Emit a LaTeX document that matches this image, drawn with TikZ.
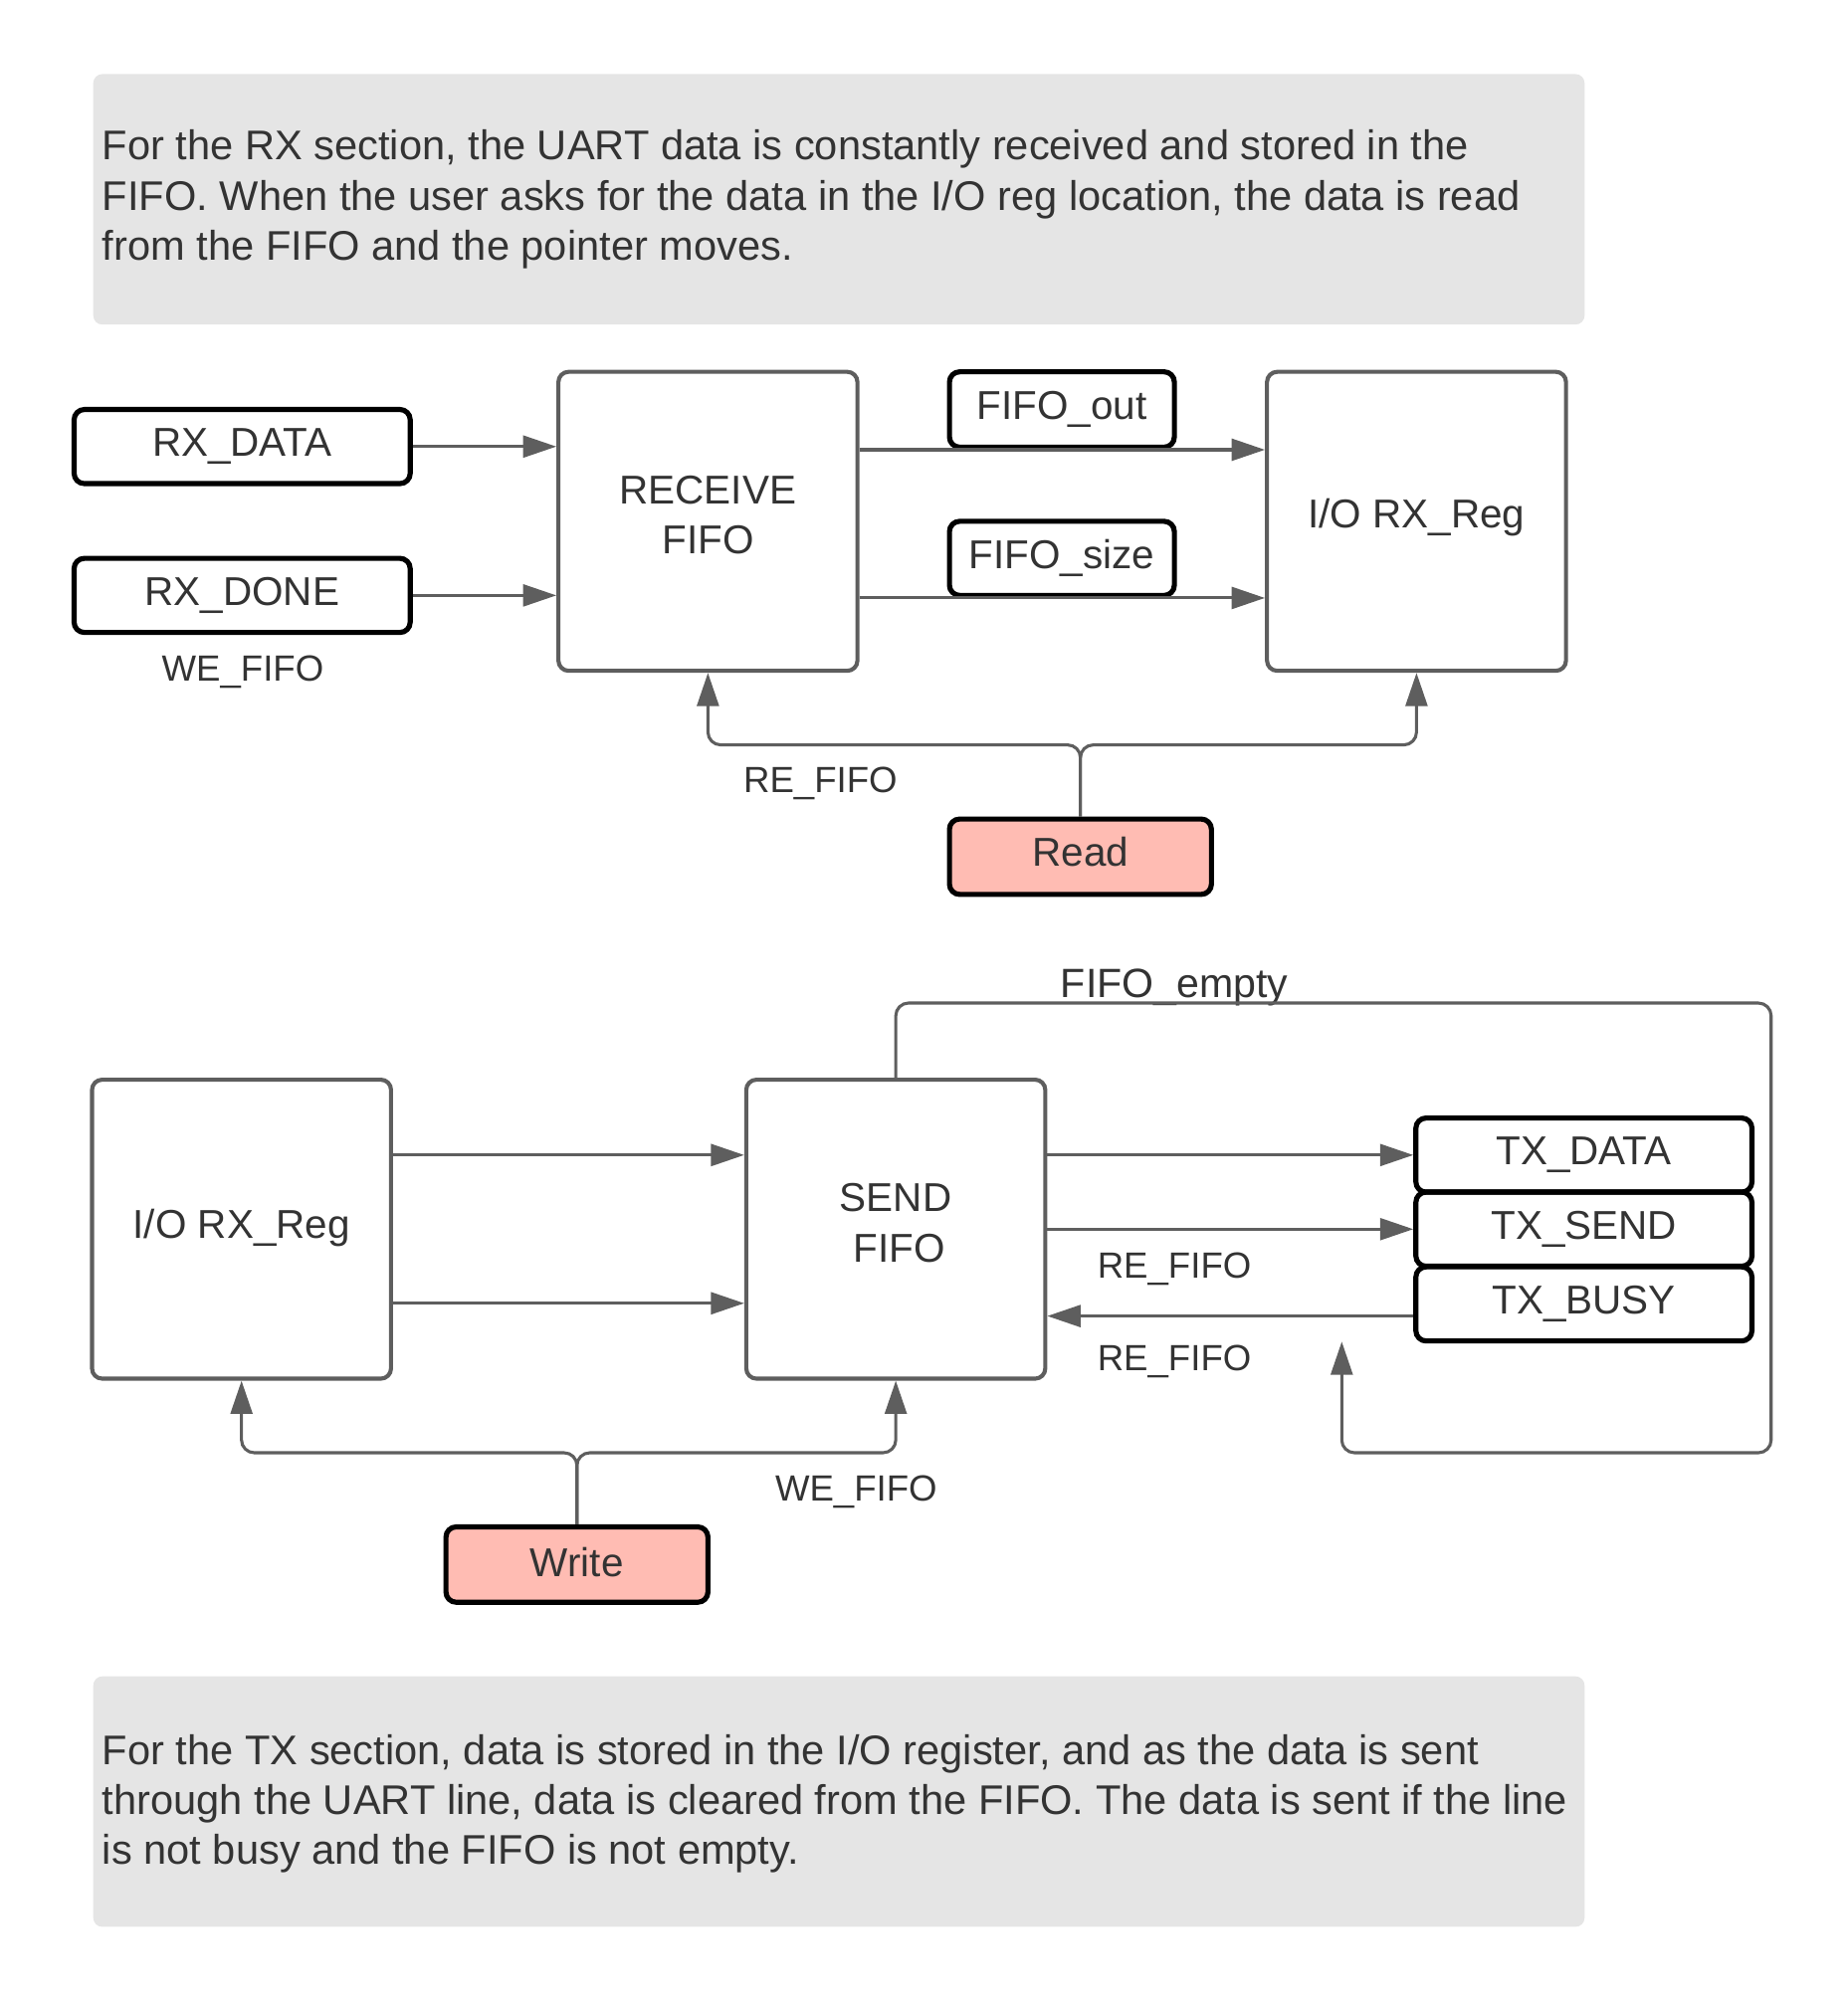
\documentclass[tikz,border=0pt]{standalone}
\usepackage{fontspec}
\setmainfont{Liberation Sans}
\usetikzlibrary{arrows.meta}
\definecolor{lineg}{HTML}{5E5E5E}
\definecolor{txt}{HTML}{333333}
\definecolor{panelg}{HTML}{E5E5E5}
\definecolor{pinkf}{HTML}{FFBCB3}
\begin{document}
\begin{tikzpicture}[x=1pt,y=-1pt,
  panel/.style={fill=panelg, draw=none, rounded corners=7pt, minimum width=1167pt, minimum height=196pt, inner sep=0pt},
  bodytext/.style={text=txt, font=\fontsize{32.4}{39}\selectfont, align=left, inner sep=0pt, anchor=west},
  bigbox/.style={draw=lineg, line width=3.2pt, rounded corners=8pt, minimum width=234pt, minimum height=234pt, text=txt, font=\fontsize{31.5}{39}\selectfont, align=center, inner sep=0pt},
  sigbox/.style={draw=black, line width=4pt, rounded corners=8pt, minimum width=263pt, minimum height=58pt, text=txt, font=\fontsize{31.5}{38}\selectfont, inner sep=0pt},
  pinkbox/.style={sigbox, fill=pinkf, minimum width=205pt, minimum height=59pt},
  lbl/.style={text=txt, font=\fontsize{28.5}{34}\selectfont, inner sep=0pt},
  conn/.style={draw=lineg, line width=2.4pt, -{Triangle[length=26pt,width=17pt]}},
]
\useasboundingbox (0,0) rectangle (1445.4,1570);

% ---------- top panel ----------
\node[panel] (p1) at (656.5,156) {};
\node[bodytext] (t1) at (80,156) {For the RX section, the UART data is constantly received and stored in the\\FIFO. When the user asks for the data in the I/O reg location, the data is read\\from the FIFO and the pointer moves.};

% ---------- RX section ----------
\node[sigbox] (rxdata) at (189.5,349.5) {RX\_DATA};
\node[sigbox] (rxdone) at (189.5,466) {RX\_DONE};
\node[lbl] (we1) at (190,526) {WE\_FIFO};
\node[bigbox, text depth=10pt] (recv) at (554,408) {RECEIVE\\FIFO};
\node[sigbox, minimum width=176pt, minimum height=59pt] (fifoout) at (831,320.5) {FIFO\_out};
\node[sigbox, minimum width=176pt] (fifosize) at (831,437) {FIFO\_size};
\node[bigbox, text depth=12pt] (ioreg1) at (1108.5,408) {I/O RX\_Reg};
\node[pinkbox, text depth=8pt] (read) at (845.5,670.5) {Read};
\node[lbl] (re1) at (642,613) {RE\_FIFO};

\draw[conn] (rxdata.east) -- (rxdata.east -| recv.west);
\draw[conn] (rxdone.east) -- (rxdone.east -| recv.west);
\draw[conn] (recv.east |- fifoout.south) -- (ioreg1.west |- fifoout.south);
\draw[conn] (recv.east |- fifosize.south) -- (ioreg1.west |- fifosize.south);

\coordinate (fy1) at (0,583);
\draw[conn, rounded corners=10pt] (read.north) |- (recv.south |- fy1) -- (recv.south);
\draw[conn, rounded corners=10pt] (read.north) |- (ioreg1.south |- fy1) -- (ioreg1.south);

% ---------- TX section ----------
\node[bigbox, text depth=8pt] (ioreg2) at (189,962) {I/O RX\_Reg};
\node[bigbox, text depth=10pt] (send) at (701,962) {SEND\\\hspace*{6pt}FIFO};
\node[sigbox] (txdata) at (1239.5,904) {TX\_DATA};
\node[sigbox] (txsend) at (1239.5,962) {TX\_SEND};
\node[sigbox] (txbusy) at (1239.5,1020.5) {TX\_BUSY};
\node[pinkbox, text depth=4pt] (write) at (451.5,1224.5) {Write};
\node[lbl, font=\fontsize{32}{38}\selectfont] (empty) at (919,773) {FIFO\_empty};
\node[lbl] (re2) at (919,993) {RE\_FIFO};
\node[lbl] (re3) at (919,1066) {RE\_FIFO};
\node[lbl] (we2) at (670,1168) {WE\_FIFO};

\coordinate (ya) at (0,904);
\coordinate (yb) at (0,1020);
\coordinate (yc) at (0,1030);
\draw[conn] (ioreg2.east |- ya) -- (send.west |- ya);
\draw[conn] (ioreg2.east |- yb) -- (send.west |- yb);
\draw[conn] (send.east |- txdata.west) -- (txdata.west);
\draw[conn] (send.east |- txsend.west) -- (txsend.west);
\draw[conn] (txbusy.west |- yc) -- (send.east |- yc);

\coordinate (lp1) at (1386,785);
\coordinate (lp2) at (1050,1137);
\coordinate (lptip) at (1050,1050);
\draw[conn, rounded corners=10pt] (send.north) |- (lp1) |- (lp2) -- (lptip);

\coordinate (fy2) at (0,1137);
\draw[conn, rounded corners=10pt] (write.north) |- (ioreg2.south |- fy2) -- (ioreg2.south);
\draw[conn, rounded corners=10pt] (write.north) |- (send.south |- fy2) -- (send.south);

% ---------- bottom panel ----------
\node[panel] (p2) at (656.5,1410) {};
\node[bodytext] (t2) at (80,1412) {For the TX section, data is stored in the I/O register, and as the data is sent\\through the UART line, data is cleared from the FIFO. The data is sent if the line\\is not busy and the FIFO is not empty.};
\end{tikzpicture}
\end{document}
